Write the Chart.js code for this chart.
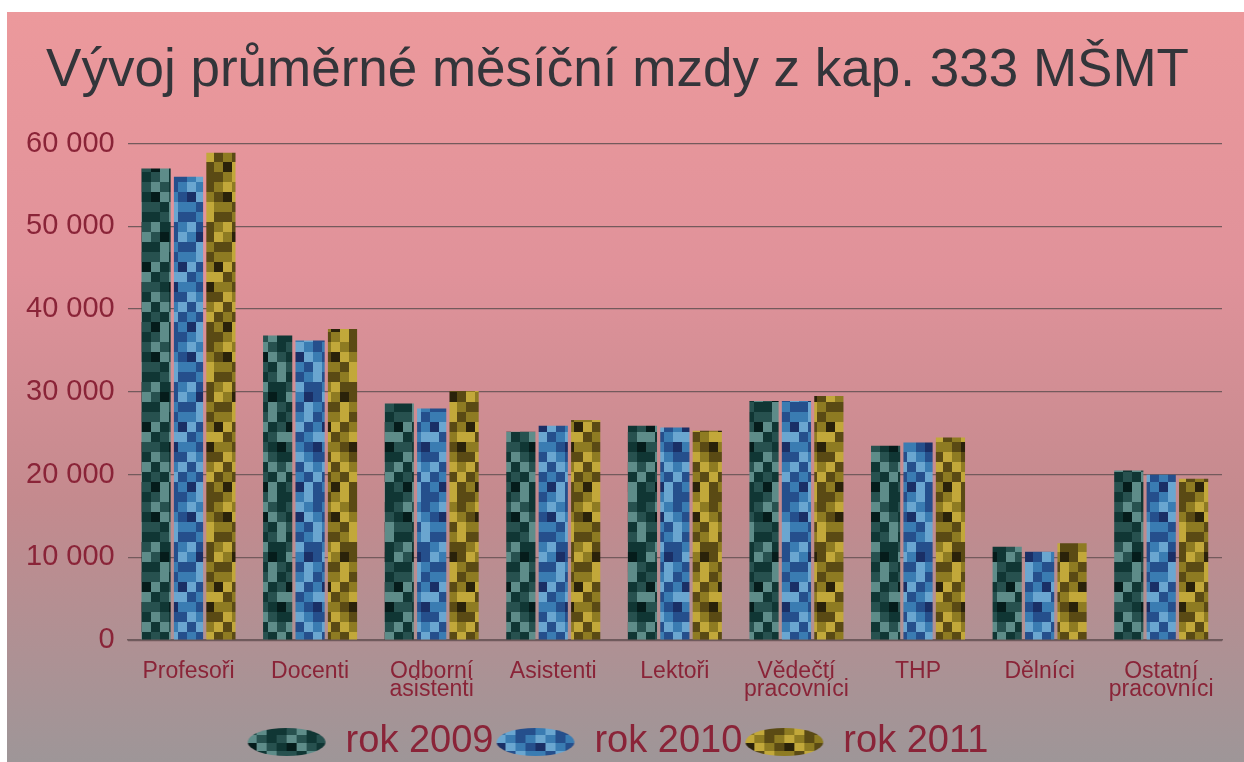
<!DOCTYPE html>
<html>
<head>
<meta charset="utf-8">
<script src="https://cdn.jsdelivr.net/npm/chart.js@4"></script>
<style>
  html, body { margin: 0; padding: 0; background: #fff; }
  #wrap { position: absolute; left: 7px; top: 12px; width: 1237px; height: 750px; }
</style>
</head>
<body>
<div id="wrap"><canvas id="mzdy"></canvas></div>
<script>
// data
const categories = [
    'Profesoři', 'Docenti', ['Odborní', 'asistenti'], 'Asistenti', 'Lektoři',
    ['Vědečtí', 'pracovníci'], 'THP', 'Dělníci', ['Ostatní', 'pracovníci']
];
const years = ['rok 2009', 'rok 2010', 'rok 2011'];
const rok2009 = [57000, 36800, 28600, 25200, 25900, 28900, 23500, 11300, 20500];
const rok2010 = [56000, 36200, 28000, 25900, 25700, 28900, 23900, 10700, 20000];
const rok2011 = [58900, 37600, 30100, 26600, 25300, 29500, 24500, 11700, 19500];
const yTicks = [0, 10000, 20000, 30000, 40000, 50000, 60000];

const FONT = "'Liberation Sans', Arial, sans-serif";
const textRed = '#8a2438';

// mosaic texture for the bars, shades: 0 base, 1 light, 2 dark, 3 darkest
const mosaic = [
    '0122', '1020', '3102', '0210', '2012', '1220', '0321', '2102',
    '0120', '1203', '2011', '0230', '1022', '2101', '0212', '3120'
];
function makePattern(shades, bw, bh) {
    let c = document.createElement('canvas');
    c.width = bw * 4;
    c.height = bh * mosaic.length;
    let g = c.getContext('2d');
    mosaic.forEach((row, r) => {
        for (let k = 0; k < 4; k++) {
            g.fillStyle = shades[+row[k]];
            g.fillRect(k * bw, r * bh, bw, bh);
        }
    });
    return c;
}
const shades2009 = ['#27514f', '#5e8c89', '#103634', '#051c1b'];
const shades2010 = ['#3a7cb2', '#6aa6d0', '#254f8c', '#1a2f66'];
const shades2011 = ['#8e7b22', '#c2a83a', '#5a4a14', '#2a220a'];

const ctx = document.getElementById('mzdy').getContext('2d');
const pat2009 = ctx.createPattern(makePattern(shades2009, 9, 10), 'repeat');
const pat2010 = ctx.createPattern(makePattern(shades2010, 9, 10), 'repeat');
const pat2011 = ctx.createPattern(makePattern(shades2011, 9, 10), 'repeat');

// ellipse shaped legend marker filled with the same mosaic
function legendBlob(shades) {
    let c = document.createElement('canvas');
    c.width = 80;
    c.height = 30;
    let g = c.getContext('2d');
    g.beginPath();
    g.ellipse(40, 15, 39, 14, 0, 0, Math.PI * 2);
    g.fillStyle = g.createPattern(makePattern(shades, 10, 8), 'repeat');
    g.fill();
    return c;
}
const blobs = [legendBlob(shades2009), legendBlob(shades2010), legendBlob(shades2011)];

const backdrop = {
    id: 'backdrop',
    beforeDraw(chart) {
        let c = chart.ctx;
        let grad = c.createLinearGradient(0, 0, 0, chart.height);
        grad.addColorStop(0, '#ec999c');
        grad.addColorStop(0.35, '#e0929a');
        grad.addColorStop(0.65, '#c48a8e');
        grad.addColorStop(1, '#9e9698');
        c.save();
        c.fillStyle = grad;
        c.fillRect(0, 0, chart.width, chart.height);
        c.restore();
    }
};

new Chart(ctx, {
    type: 'bar',
    data: {
        labels: categories,
        datasets: [{
            label: years[0],
            data: rok2009,
            backgroundColor: pat2009
        }, {
            label: years[1],
            data: rok2010,
            backgroundColor: pat2010
        }, {
            label: years[2],
            data: rok2011,
            backgroundColor: pat2011
        }]
    },
    options: {
        responsive: true,
        maintainAspectRatio: false,
        animation: false,
        layout: {
            padding: { top: 24, right: 22, left: 6, bottom: -9 }
        },
        datasets: {
            bar: {
                categoryPercentage: 0.8,
                barPercentage: 0.9
            }
        },
        scales: {
            x: {
                grid: { display: false, drawTicks: false },
                border: { color: '#6e5a5c', width: 1.5 },
                ticks: {
                    color: textRed,
                    padding: 22,
                    maxRotation: 0,
                    autoSkip: false,
                    font: { family: FONT, size: 23, lineHeight: 0.8 }
                }
            },
            y: {
                min: 0,
                max: 60000,
                afterBuildTicks: (axis) => {
                    axis.ticks = yTicks.map(v => ({ value: v }));
                },
                grid: { color: '#735a5c', lineWidth: 1.3, drawTicks: false },
                border: { display: false },
                ticks: {
                    color: textRed,
                    padding: 13,
                    font: { family: FONT, size: 29 },
                    callback: (v) => String(v).replace(/\B(?=(\d{3})+(?!\d))/g, ' ')
                }
            }
        },
        plugins: {
            title: {
                display: true,
                text: 'Vývoj průměrné měsíční mzdy z kap. 333 MŠMT',
                color: '#33353a',
                font: { family: FONT, size: 53, weight: 'normal' },
                padding: { top: 4, bottom: 40 }
            },
            legend: {
                position: 'bottom',
                padding: { top: 2, bottom: 0 },
                labels: {
                    usePointStyle: true,
                    pointStyleWidth: 80,
                    color: textRed,
                    padding: 2,
                    font: { family: FONT, size: 38 },
                    generateLabels: (chart) => years.map((y, i) => ({
                        text: y,
                        pointStyle: blobs[i],
                        fillStyle: 'transparent',
                        strokeStyle: 'transparent',
                        lineWidth: 0,
                        fontColor: textRed,
                        datasetIndex: i,
                        hidden: false
                    }))
                }
            },
            tooltip: { enabled: false }
        }
    },
    plugins: [backdrop]
});
</script>
</body>
</html>
